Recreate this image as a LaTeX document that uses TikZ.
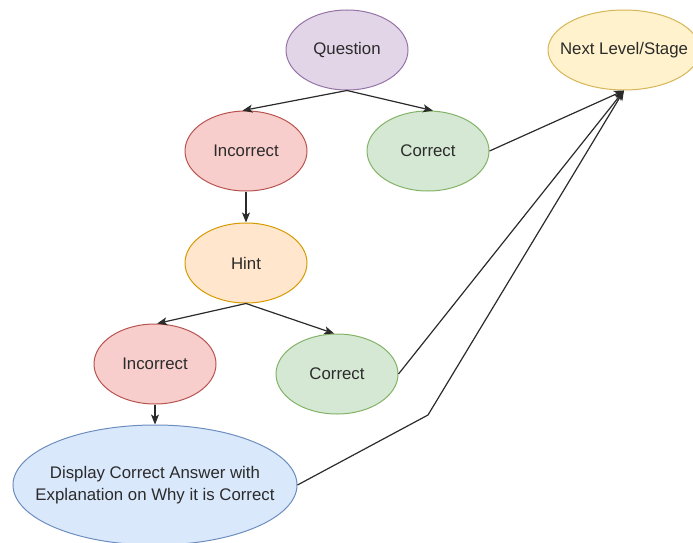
\documentclass[tikz,border=0pt]{standalone}
\usepackage{fontspec}
\setmainfont{Liberation Sans}
\usetikzlibrary{arrows.meta,calc,shapes.geometric}
\definecolor{qfill}{HTML}{E1D5E7}\definecolor{qdraw}{HTML}{9673A6}
\definecolor{yfill}{HTML}{FFF2CC}\definecolor{ydraw}{HTML}{D6B656}
\definecolor{rfill}{HTML}{F8CECC}\definecolor{rdraw}{HTML}{B85450}
\definecolor{gfill}{HTML}{D5E8D4}\definecolor{gdraw}{HTML}{82B366}
\definecolor{ofill}{HTML}{FFE6CC}\definecolor{odraw}{HTML}{D79B00}
\definecolor{bfill}{HTML}{DAE8FC}\definecolor{bdraw}{HTML}{6C8EBF}
\definecolor{txt}{HTML}{2B2B2B}
\definecolor{ln}{HTML}{2B2B2B}
\begin{document}
\begin{tikzpicture}[x=1pt,y=-1pt,
  ell/.style={ellipse, draw, line width=1pt, minimum width=122pt, minimum height=80pt, inner sep=0pt},
  lbl/.style={label={[text=txt, font=\fontsize{16.8}{22}\selectfont, align=center]center:#1}},
  qst/.style={ell, fill=qfill, draw=qdraw},
  nxt/.style={ell, fill=yfill, draw=ydraw, minimum width=152pt},
  wrong/.style={ell, fill=rfill, draw=rdraw},
  right/.style={ell, fill=gfill, draw=gdraw},
  hnt/.style={ell, fill=ofill, draw=odraw},
  disp/.style={ell, fill=bfill, draw=bdraw, minimum width=284pt, minimum height=120pt},
  conn/.style={draw=ln, line width=1.2pt, -{Stealth[length=10pt,width=8pt,inset=2.5pt]}},
  ]
\useasboundingbox (0,0) rectangle (693,543);
\node[qst, lbl={Question}] (q) at (347,50) {};
\node[nxt, lbl={Next Level/Stage}] (nl) at (624,50) {};
\node[wrong, lbl={Incorrect}] (i1) at (246,151) {};
\node[right, lbl={Correct}] (c1) at (428,151) {};
\node[hnt, lbl={Hint}] (h) at (246,263) {};
\node[wrong, lbl={Incorrect}] (i2) at (155,364) {};
\node[right, lbl={Correct}] (c2) at (337,374) {};
\node[disp, lbl={Display Correct Answer with\\Explanation on Why it is Correct}] (d) at (155,485) {};
\coordinate (bend) at (428,415);
\draw[conn] (q.south) -- (i1.95);
\draw[conn] (q.south) -- (c1.83);
\draw[conn] (c1.east) -- (nl.south);
\draw[conn] (i1.south) -- (h.north);
\draw[conn] (h.south) -- (i2.87);
\draw[conn] (h.south) -- (c2.94);
\draw[conn] (c2.east) -- (nl.south);
\draw[conn] (i2.south) -- (d.north);
\draw[conn] (d.east) -- (bend) -- (nl.south);
\end{tikzpicture}
\end{document}
